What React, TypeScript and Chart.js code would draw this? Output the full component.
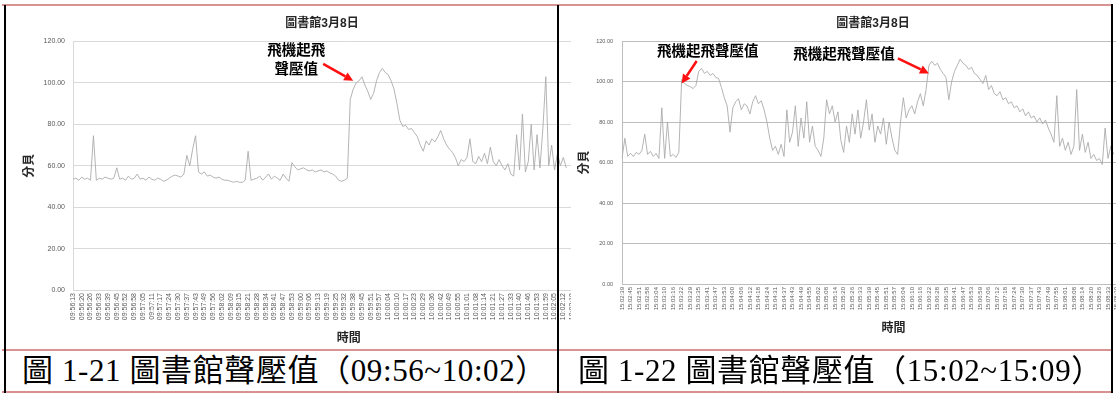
import React, { useEffect, useRef } from "react";
import { Chart, registerables } from "chart.js";

Chart.register(...registerables);

// ---- text ----
const CHART_TITLE = "圖書館3月8日";
const Y_TITLE = "分貝";
const X_TITLE = "時間";
const LEFT_CAPTION = "圖 1-21 圖書館聲壓值（09:56~10:02）";
const RIGHT_CAPTION = "圖 1-22 圖書館聲壓值（15:02~15:09）";
const LEFT_NOTE = ["飛機起飛", "聲壓值"];
const RIGHT_NOTE = ["飛機起飛聲壓值"];

// ---- y axis range (dB) ----
const Y_MIN = 0;
const Y_MAX = 120;
const Y_STEP = 20;

// readings between two printed time labels
const SAMPLES_PER_LABEL = 3;

// ---- morning session 09:56 ~ 10:02 ----
const LEFT_TIMES = [
  "09:56:13", "09:56:20", "09:56:26", "09:56:33", "09:56:39", "09:56:45", "09:56:52", "09:56:58",
  "09:57:05", "09:57:11", "09:57:17", "09:57:24", "09:57:30", "09:57:37", "09:57:43", "09:57:49", "09:57:56",
  "09:58:02", "09:58:09", "09:58:15", "09:58:21", "09:58:28", "09:58:34", "09:58:41", "09:58:47", "09:58:53",
  "09:59:00", "09:59:06", "09:59:13", "09:59:19", "09:59:25", "09:59:32", "09:59:38", "09:59:45", "09:59:51", "09:59:57",
  "10:00:04", "10:00:10", "10:00:17", "10:00:23", "10:00:29", "10:00:36", "10:00:42", "10:00:49", "10:00:55",
  "10:01:01", "10:01:08", "10:01:14", "10:01:21", "10:01:27", "10:01:33", "10:01:40", "10:01:46", "10:01:53", "10:01:59",
  "10:02:05", "10:02:12", "10:02:18", "10:02:24", "10:02:31", "10:02:37", "10:02:43", "10:02:50", "10:02:56",
];
const LEFT_SLOTS = 190;
const LEFT_DB = [
  53.5, 54, 53, 54.5, 53.5, 54, 53, 74.5, 53, 54,
  53.5, 54.5, 54, 53.5, 54, 59, 53.5, 54, 53, 55,
  53.5, 54, 56, 53.5, 54, 53, 54.5, 53.5, 53, 54,
  53.5, 52.5, 53, 54, 55, 55.5, 55, 54.5, 56, 65,
  60, 68, 74.5, 57, 56, 57, 55, 55.5, 54.5, 54,
  54.5, 53.5, 53, 53, 52.5, 52, 52.5, 52, 52, 53,
  67, 53, 53.5, 54, 55, 53, 54.5, 56, 53.5, 55,
  54, 53, 56, 54, 52.5, 61.5, 59.5, 58, 58.5, 59,
  58, 57.5, 58, 57, 57.5, 58, 57, 57.5, 56.5, 56,
  55, 53, 52.5, 53, 54, 92, 97, 100, 101, 103,
  99, 96, 92, 95, 101, 105, 107, 105, 104, 101,
  97, 90, 82, 79, 79.5, 77.5, 78, 76, 74, 70,
  67, 72, 70, 73, 71.5, 74, 77, 73, 70, 68,
  66.5, 64, 60, 63, 62, 64, 73, 62, 61, 64.5,
  62, 66, 61, 69, 62, 60, 63, 60, 58, 61,
  56, 55, 75, 58, 85, 57, 62, 80, 58, 75,
  59, 78, 103, 60, 70, 58, 66, 60, 64, 59,
];

// ---- afternoon session 15:02 ~ 15:09 ----
const RIGHT_TIMES = [
  "15:02:39", "15:02:45", "15:02:51", "15:02:58", "15:03:04", "15:03:10", "15:03:16", "15:03:22", "15:03:29",
  "15:03:35", "15:03:41", "15:03:47", "15:03:53", "15:04:00", "15:04:06", "15:04:12", "15:04:18", "15:04:24",
  "15:04:31", "15:04:37", "15:04:43", "15:04:49", "15:04:55", "15:05:02", "15:05:08", "15:05:14", "15:05:20",
  "15:05:26", "15:05:33", "15:05:39", "15:05:45", "15:05:51", "15:05:57", "15:06:04", "15:06:10", "15:06:16",
  "15:06:22", "15:06:28", "15:06:35", "15:06:41", "15:06:47", "15:06:53", "15:06:59", "15:07:06", "15:07:12",
  "15:07:18", "15:07:24", "15:07:30", "15:07:37", "15:07:43", "15:07:49", "15:07:55", "15:08:01", "15:08:08",
  "15:08:14", "15:08:20", "15:08:26", "15:08:33", "15:08:39", "15:08:45", "15:08:51", "15:08:57", "15:09:04",
  "15:09:10",
];
const RIGHT_SLOTS = 192;
const RIGHT_DB = [
  62, 72, 63, 64.5, 63, 65, 64, 66, 74, 64,
  65.5, 63, 64.5, 62, 87, 62, 80, 63, 64, 62.5,
  65, 101, 99, 98, 97.5, 96.5, 98, 105, 106.5, 104,
  105, 103, 104, 102, 101.5, 97, 92, 88, 75, 87,
  90, 91.5, 86, 89, 88, 84, 90, 93, 89, 90.5,
  86, 80, 72, 66, 68, 64, 69, 63, 86, 70,
  75, 88, 68, 82, 72, 90, 70, 78, 68, 66,
  63, 72, 91, 84, 88, 80, 85, 71, 65, 78,
  70, 84, 74, 86, 72, 80, 91, 76, 84, 70,
  78, 74, 82, 69, 80, 72, 66, 64, 80, 92,
  82, 86, 88, 84, 90, 94, 88, 96, 108, 110,
  108, 109, 106, 104, 102, 91, 100, 105, 108, 111,
  109, 108, 106, 107, 104, 103, 101, 99, 103, 96,
  98, 94, 93, 95, 91, 92, 89, 90, 87, 88,
  85, 86.5, 83, 85, 82, 83, 80, 82, 79, 81,
  77, 74, 70, 93, 68, 72, 66, 70, 64, 68,
  96, 66, 74, 65, 70, 62, 64, 61, 62, 59,
  77, 62, 68, 64,
];

// ---- where the arrows point (sample index, dB) ----
const LEFT_MARK_INDEX = 96;
const LEFT_MARK_DB = 101;
const RIGHT_MARK_A_INDEX = 21;
const RIGHT_MARK_A_DB = 99;
const RIGHT_MARK_B_INDEX = 108;
const RIGHT_MARK_B_DB = 104;

const SANS = '"Liberation Sans", "Noto Sans CJK TC", Arial, sans-serif';
const SERIF = '"Liberation Serif", "Noto Sans CJK TC", serif';
const BORDER_PINK = "#d99292";

type Callout = {
  index: number;
  value: number;
  tail: [number, number];
  textAt: [number, number];
  lines: string[];
};

const calloutPlugin = {
  id: "callouts",
  afterDatasetsDraw(chart: any, _args: any, opts: any) {
    const items: Callout[] = (opts && opts.items) || [];
    const { ctx } = chart;
    const xs = chart.scales.x;
    const ys = chart.scales.y;
    items.forEach((c) => {
      const tx = xs.getPixelForValue(c.index);
      const ty = ys.getPixelForValue(c.value);
      const sx = tx + c.tail[0];
      const sy = ty + c.tail[1];
      const ang = Math.atan2(ty - sy, tx - sx);
      const head = 9;
      const half = 4.5;
      const bx = tx - head * Math.cos(ang);
      const by = ty - head * Math.sin(ang);
      ctx.save();
      ctx.strokeStyle = "#ff1010";
      ctx.fillStyle = "#ff1010";
      ctx.lineWidth = 2.5;
      ctx.beginPath();
      ctx.moveTo(sx, sy);
      ctx.lineTo(bx, by);
      ctx.stroke();
      ctx.beginPath();
      ctx.moveTo(tx, ty);
      ctx.lineTo(bx + half * Math.sin(ang), by - half * Math.cos(ang));
      ctx.lineTo(bx - half * Math.sin(ang), by + half * Math.cos(ang));
      ctx.closePath();
      ctx.fill();
      ctx.fillStyle = "#000";
      ctx.font = `bold 14.5px ${SANS}`;
      ctx.textAlign = "center";
      ctx.textBaseline = "middle";
      c.lines.forEach((t, k) => {
        ctx.fillText(t, tx + c.textAt[0], ty + c.textAt[1] + k * 19);
      });
      ctx.restore();
    });
  },
};

type PanelSpec = {
  times: string[];
  values: number[];
  slots: number;
  width: number;
  height: number;
  yAxisWidth: number;
  xAxisHeight: number;
  titlePad: { top: number; bottom: number };
  yTitlePad: number;
  xTitlePad: number;
  xTickFont: number;
  yTickFont: number;
  yTickPad: number;
  gridColor: string;
  callouts: Callout[];
};

function Panel({ spec }: { spec: PanelSpec }) {
  const ref = useRef<HTMLCanvasElement | null>(null);

  useEffect(() => {
    if (!ref.current) return;
    const cats = Array.from({ length: spec.slots }, (_, i) =>
      i % SAMPLES_PER_LABEL === 0 ? spec.times[i / SAMPLES_PER_LABEL] ?? "" : ""
    );
    const series = cats.map((_, i) => (i < spec.values.length ? spec.values[i] : null));

    const chart = new Chart(ref.current, {
      type: "line",
      data: {
        labels: cats,
        datasets: [
          {
            data: series,
            borderColor: "#ababab",
            borderWidth: 0.9,
            pointRadius: 0,
            tension: 0,
            fill: false,
          },
        ],
      },
      options: {
        responsive: false,
        maintainAspectRatio: false,
        animation: false,
        layout: { padding: 0 },
        plugins: {
          legend: { display: false },
          tooltip: { enabled: false },
          title: {
            display: true,
            text: CHART_TITLE,
            color: "#262626",
            font: { family: SANS, size: 12, weight: "bold" },
            padding: spec.titlePad,
          },
          callouts: { items: spec.callouts },
        } as any,
        scales: {
          x: {
            type: "category",
            grid: { display: false, drawTicks: false },
            border: { display: true, color: spec.gridColor },
            ticks: {
              autoSkip: false,
              minRotation: 90,
              maxRotation: 90,
              padding: 3,
              color: "#595959",
              font: { family: SANS, size: spec.xTickFont },
              callback: (_v: any, i: number) => cats[i],
            },
            title: {
              display: true,
              text: X_TITLE,
              color: "#262626",
              font: { family: SANS, size: 12, weight: "bold" },
              padding: { top: 0, bottom: spec.xTitlePad },
            },
            afterFit: (s: any) => {
              s.height = spec.xAxisHeight;
            },
          },
          y: {
            min: Y_MIN,
            max: Y_MAX,
            grid: { color: spec.gridColor, drawTicks: false },
            border: { display: true, color: spec.gridColor },
            ticks: {
              stepSize: Y_STEP,
              padding: spec.yTickPad,
              color: "#595959",
              font: { family: SANS, size: spec.yTickFont },
              callback: (v: any) => Number(v).toFixed(2),
            },
            title: {
              display: true,
              text: Y_TITLE,
              color: "#262626",
              font: { family: SANS, size: 12, weight: "bold" },
              padding: { top: spec.yTitlePad, bottom: 0 },
            },
            afterFit: (s: any) => {
              s.width = spec.yAxisWidth;
            },
          },
        } as any,
      },
      plugins: [calloutPlugin],
    });
    return () => chart.destroy();
  }, [spec]);

  return (
    <canvas
      ref={ref}
      width={spec.width}
      height={spec.height}
      style={{ display: "block", width: spec.width, height: spec.height }}
    />
  );
}

const LEFT_SPEC: PanelSpec = {
  times: LEFT_TIMES,
  values: LEFT_DB,
  slots: LEFT_SLOTS,
  width: 628,
  height: 340,
  yAxisWidth: 65,
  xAxisHeight: 58,
  titlePad: { top: 8.8, bottom: 10.3 },
  yTitlePad: 14.8,
  xTitlePad: 1.8,
  xTickFont: 7,
  yTickFont: 7,
  yTickPad: 8,
  gridColor: "#d9d9d9",
  callouts: [
    {
      index: LEFT_MARK_INDEX,
      value: LEFT_MARK_DB,
      tail: [-30, -17],
      textAt: [-57, -30],
      lines: LEFT_NOTE,
    },
  ],
};

const RIGHT_SPEC: PanelSpec = {
  times: RIGHT_TIMES,
  values: RIGHT_DB,
  slots: RIGHT_SLOTS,
  width: 604,
  height: 340,
  yAxisWidth: 51,
  xAxisHeight: 64,
  titlePad: { top: 8.8, bottom: 9.8 },
  yTitlePad: 6.8,
  xTitlePad: 11.8,
  xTickFont: 6,
  yTickFont: 5.5,
  yTickPad: 9,
  gridColor: "#bdbdbd",
  callouts: [
    {
      index: RIGHT_MARK_A_INDEX,
      value: RIGHT_MARK_A_DB,
      tail: [15, -22.5],
      textAt: [26, -32],
      lines: RIGHT_NOTE,
    },
    {
      index: RIGHT_MARK_B_INDEX,
      value: RIGHT_MARK_B_DB,
      tail: [-31, -15],
      textAt: [-85, -18.5],
      lines: RIGHT_NOTE,
    },
  ],
};

const abs = (s: React.CSSProperties): React.CSSProperties => ({ position: "absolute", ...s });

const captionStyle = (left: number): React.CSSProperties =>
  abs({
    left,
    top: 351,
    height: 40,
    lineHeight: "40px",
    fontSize: 31,
    letterSpacing: 0.6,
    fontFamily: SERIF,
    whiteSpace: "nowrap",
    color: "#000",
  });

export default function App() {
  return (
    <div
      style={{
        position: "fixed",
        left: 0,
        top: 0,
        width: 1116,
        height: 394,
        overflow: "hidden",
        background: "#fff",
      }}
    >
      <div style={abs({ left: 8, top: 8 })}>
        <Panel spec={LEFT_SPEC} />
      </div>
      <div style={abs({ left: 571, top: 8, background: "#fff" })}>
        <Panel spec={RIGHT_SPEC} />
      </div>

      {/* captions */}
      <div style={captionStyle(22)}>{LEFT_CAPTION}</div>
      <div style={captionStyle(578)}>{RIGHT_CAPTION}</div>

      {/* table rules */}
      <div style={abs({ left: 2, top: 4, width: 1111, height: 2, background: BORDER_PINK })} />
      <div style={abs({ left: 2, top: 349, width: 1111, height: 2, background: BORDER_PINK })} />
      <div style={abs({ left: 2, top: 391, width: 1111, height: 2, background: BORDER_PINK })} />
      <div style={abs({ left: 4, top: 5, width: 2, height: 388, background: "#000" })} />
      <div style={abs({ left: 557, top: 5, width: 2, height: 388, background: "#000" })} />
      <div style={abs({ left: 1111, top: 4, width: 2, height: 389, background: "#000" })} />
    </div>
  );
}
